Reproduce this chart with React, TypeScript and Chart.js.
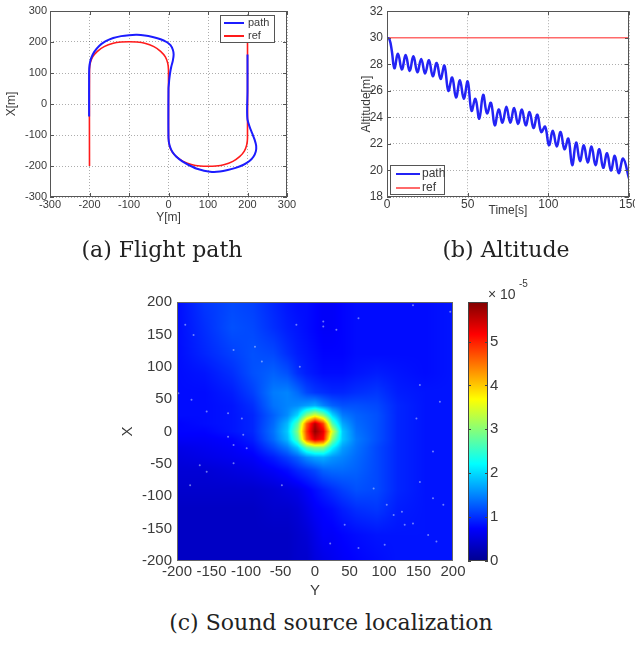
import React, { useEffect, useRef } from 'react';
import { Chart, registerables } from 'chart.js';

Chart.register(...registerables);

// ---------- (a) Flight path : horizontal = Y[m], vertical = X[m] ----------
const pathY = [-201, -201, -200, -196, -188, -175, -160, -140, -120, -100, -80, -60, -40, -20, -5, 5, 11, 13, 11, 7, 4, 2, 1, 0, 0, 3, 10, 20, 35, 50, 70, 90, 110, 130, 150, 170, 190, 205, 215, 221, 222, 218, 212, 205, 200, 199, 200, 200];
const pathX = [-40, 100, 125, 147, 168, 188, 202, 213, 219, 222, 223, 221, 216, 209, 200, 190, 175, 160, 140, 120, 100, 80, 65, 50, -110, -135, -155, -170, -185, -196, -208, -215, -219, -218, -213, -206, -196, -184, -170, -153, -135, -115, -95, -72, -50, -20, 40, 160];
const refY = [-200, -200, -198, -192, -180, -163, -140, -120, -100, -80, -60, -37, -20, -8, -2, 0, 0, 2, 8, 20, 37, 60, 80, 100, 120, 140, 163, 180, 192, 198, 200, 200];
const refX = [-200, 110, 132, 152, 170, 185, 196, 200, 201, 200, 196, 185, 170, 152, 132, 110, -110, -132, -152, -170, -185, -196, -200, -201, -200, -196, -185, -170, -152, -132, -110, 200];
const flightTicks = [-300, -200, -100, 0, 100, 200, 300];

// ---------- (b) Altitude ----------
const altTime = [0, 1.5, 3.0, 4.6, 6.8, 9.2, 11.6, 14.0, 16.4, 18.8, 21.2, 23.6, 26.0, 28.4, 30.8, 33.2, 35.6, 38.0, 40.4, 42.8, 45.2, 47.6, 50.0, 52.4, 54.8, 57.2, 59.6, 62.0, 64.4, 66.8, 69.2, 71.6, 74.0, 76.4, 78.8, 81.2, 83.6, 86.0, 88.4, 90.8, 93.2, 95.6, 98.0, 100.4, 102.8, 105.2, 107.6, 110.0, 112.4, 114.8, 117.2, 119.6, 122.0, 124.4, 126.8, 129.2, 131.6, 134.0, 136.4, 138.8, 141.2, 143.6, 146.4, 150.0];
const altPath = [30.0, 29.9, 29.0, 27.7, 28.8, 27.6, 28.7, 27.5, 28.6, 27.4, 28.4, 27.3, 28.3, 27.1, 28.1, 26.9, 27.9, 26.0, 27.0, 25.5, 26.8, 25.4, 26.7, 24.5, 25.4, 23.9, 25.7, 24.3, 25.1, 23.4, 24.6, 23.6, 24.8, 23.6, 24.7, 23.5, 24.6, 23.4, 24.4, 23.2, 24.2, 22.9, 23.3, 21.9, 23.0, 21.8, 22.9, 21.6, 22.4, 20.4, 22.1, 20.7, 21.9, 20.6, 21.8, 20.4, 21.6, 20.2, 21.3, 20.0, 21.1, 19.8, 20.9, 19.4];
const altRefTime = [0, 150];
const altRefValue = [30, 30];
const timeTicks = [0, 50, 100, 150];
const altTicks = [18, 20, 22, 24, 26, 28, 30, 32];

// ---------- (c) Sound source localization (values x 1e-5) ----------
const heatGridY = [-200, -160, -120, -90, -60, -40, -25, -12, 0, 12, 25, 40, 60, 90, 120, 160, 200];
const heatGridX = [200, 160, 120, 90, 60, 40, 25, 12, 0, -12, -25, -40, -60, -90, -120, -160, -200];
const heatValues = [
  [0.8, 1.05, 1.15, 1.1, 0.95, 0.85, 0.8, 0.8, 0.75, 0.7, 0.7, 0.75, 0.8, 0.8, 0.8, 0.8, 0.85],
  [0.8, 1.0, 1.2, 1.15, 1.0, 0.9, 0.85, 0.8, 0.75, 0.7, 0.7, 0.75, 0.8, 0.8, 0.8, 0.8, 0.85],
  [0.8, 0.95, 1.1, 1.2, 1.15, 1.0, 0.9, 0.85, 0.8, 0.75, 0.75, 0.75, 0.8, 0.8, 0.8, 0.8, 0.85],
  [0.8, 0.85, 1.0, 1.2, 1.3, 1.2, 1.0, 0.9, 0.85, 0.8, 0.8, 0.8, 0.85, 0.9, 0.85, 0.8, 0.85],
  [0.8, 0.8, 0.9, 1.1, 1.45, 1.5, 1.35, 1.15, 1.05, 1.0, 0.95, 0.95, 1.0, 1.05, 0.9, 0.85, 0.85],
  [0.8, 0.8, 0.85, 1.0, 1.4, 1.5, 1.55, 1.65, 1.75, 1.5, 1.3, 1.2, 1.2, 1.15, 0.95, 0.85, 0.85],
  [0.8, 0.8, 0.85, 0.95, 1.3, 1.55, 2.0, 3.0, 3.5, 3.0, 2.0, 1.45, 1.3, 1.2, 0.95, 0.85, 0.85],
  [0.75, 0.8, 0.85, 0.95, 1.35, 1.8, 2.7, 4.6, 5.6, 4.8, 2.7, 1.7, 1.35, 1.2, 0.95, 0.85, 0.85],
  [0.75, 0.75, 0.85, 0.95, 1.4, 1.9, 3.0, 4.8, 5.8, 5.3, 3.5, 1.9, 1.4, 1.2, 0.95, 0.85, 0.85],
  [0.7, 0.7, 0.75, 0.9, 1.35, 1.8, 2.7, 4.6, 5.4, 5.1, 3.0, 1.9, 1.45, 1.2, 0.95, 0.85, 0.85],
  [0.6, 0.65, 0.7, 0.8, 1.15, 1.45, 1.9, 2.7, 3.0, 3.0, 2.2, 1.65, 1.4, 1.15, 0.95, 0.85, 0.85],
  [0.55, 0.6, 0.65, 0.7, 0.9, 1.1, 1.3, 1.55, 1.7, 1.75, 1.6, 1.5, 1.35, 1.15, 0.95, 0.85, 0.85],
  [0.5, 0.5, 0.55, 0.6, 0.7, 0.8, 0.95, 1.05, 1.15, 1.3, 1.35, 1.35, 1.3, 1.15, 0.95, 0.85, 0.85],
  [0.45, 0.45, 0.45, 0.45, 0.5, 0.55, 0.6, 0.7, 0.8, 0.9, 1.0, 1.1, 1.2, 1.15, 0.95, 0.85, 0.85],
  [0.4, 0.4, 0.4, 0.4, 0.45, 0.45, 0.5, 0.6, 0.7, 0.75, 0.8, 0.9, 1.0, 1.05, 0.9, 0.85, 0.85],
  [0.4, 0.4, 0.4, 0.4, 0.4, 0.4, 0.45, 0.5, 0.6, 0.7, 0.7, 0.75, 0.8, 0.85, 0.85, 0.85, 0.85],
  [0.4, 0.4, 0.4, 0.4, 0.4, 0.4, 0.45, 0.45, 0.55, 0.6, 0.65, 0.7, 0.75, 0.8, 0.85, 0.85, 0.85],
];
const heatMax = 5.9;
const speckY = [-27, 12, 12, 31, 63, 142, 196, -188, -176, -118, -87, -77, -198, -179, -157, -126, -106, -104, -126, -118, -99, -167, -157, -118, -48, -181, 104, 114, 126, 130, 142, 171, 186, 152, 85, 43, 22, 63, 101, 164, 176, -22, 152, 181, 171, 147];
const speckX = [165, 170, 162, 157, 175, 195, 185, 165, 149, 126, 131, 108, 59, 49, 31, 28, 20, -5, -8, -21, -26, -52, -62, -49, -83, -83, -113, -129, -124, -144, -142, -103, -113, -78, -88, -144, -173, -180, -175, -160, -170, 100, 72, 46, -31, 20];
const heatTicks = [-200, -150, -100, -50, 0, 50, 100, 150, 200];
const colorbarTicks = [0, 1, 2, 3, 4, 5];

// ---------- helpers ----------
const SANS = '"Liberation Sans", Arial, Helvetica, sans-serif';
const TXT = '#3a3a3a';
const toPoints = (xs: number[], ys: number[]) => xs.map((x, i) => ({ x, y: ys[i] }));
const setTicks = (vals: number[]) => (s: any) => { s.ticks = vals.map((v) => ({ value: v })); };

function jet(t: number): [number, number, number] {
  const c = (v: number) => Math.max(0, Math.min(1, v));
  return [c(1.5 - Math.abs(4 * t - 3)), c(1.5 - Math.abs(4 * t - 2)), c(1.5 - Math.abs(4 * t - 1))].map((v) => Math.round(v * 255)) as any;
}

function bracket(grid: number[], v: number): [number, number] {
  const n = grid.length;
  const asc = grid[n - 1] > grid[0];
  for (let i = 0; i < n - 1; i++) {
    const a = grid[i], b = grid[i + 1];
    if ((asc && v <= b) || (!asc && v >= b)) {
      const f = Math.max(0, Math.min(1, (v - a) / (b - a)));
      return [i, f];
    }
  }
  return [n - 2, 1];
}

const matlabBox = {
  id: 'matlabBox',
  afterDatasetsDraw(chart: any, _a: any, o: any) {
    if (!o || !o.show) return;
    const { ctx, chartArea: a } = chart;
    ctx.save();
    ctx.strokeStyle = o.color;
    ctx.lineWidth = 1;
    ctx.setLineDash([]);
    ctx.strokeRect(Math.round(a.left) + 0.5, Math.round(a.top) + 0.5, Math.round(a.right - a.left) - 1, Math.round(a.bottom - a.top) - 1);
    const L = o.tickLen || 0;
    if (L) {
      ctx.beginPath();
      if (o.xTicks) {
        const sx = chart.scales.x;
        sx.ticks.forEach((t: any) => {
          const p = Math.round(sx.getPixelForValue(t.value)) + 0.5;
          ctx.moveTo(p, a.bottom); ctx.lineTo(p, a.bottom - L);
          ctx.moveTo(p, a.top); ctx.lineTo(p, a.top + L);
        });
      }
      if (o.yTicks) {
        const sy = chart.scales.y;
        sy.ticks.forEach((t: any) => {
          const p = Math.round(sy.getPixelForValue(t.value)) + 0.5;
          ctx.moveTo(a.left, p); ctx.lineTo(a.left + L, p);
          ctx.moveTo(a.right, p); ctx.lineTo(a.right - L, p);
        });
      }
      ctx.stroke();
    }
    ctx.restore();
  },
};

const boxLegend = {
  id: 'boxLegend',
  afterDraw(chart: any, _a: any, o: any) {
    if (!o || !o.show) return;
    const { ctx, chartArea: a } = chart;
    const x0 = Math.round(o.anchor === 'tr' ? a.right - o.dx - o.w : a.left + o.dx);
    const y0 = Math.round(o.anchor === 'tr' ? a.top + o.dy : a.bottom - o.dy - o.h);
    ctx.save();
    ctx.fillStyle = '#ffffff';
    ctx.fillRect(x0, y0, o.w, o.h);
    ctx.strokeStyle = '#555';
    ctx.lineWidth = 1;
    ctx.strokeRect(x0 + 0.5, y0 + 0.5, o.w - 1, o.h - 1);
    ctx.font = o.labelFont;
    ctx.textBaseline = 'middle';
    chart.data.datasets.forEach((ds: any, i: number) => {
      const cy = y0 + o.firstRow + i * o.rowGap;
      ctx.strokeStyle = ds.borderColor;
      ctx.lineWidth = 2;
      ctx.beginPath();
      ctx.moveTo(x0 + o.lineStart, cy);
      ctx.lineTo(x0 + o.lineStart + o.lineLen, cy);
      ctx.stroke();
      ctx.fillStyle = TXT;
      ctx.fillText(ds.label, x0 + o.textStart, cy);
    });
    ctx.restore();
  },
};

const heatmapLayer = {
  id: 'heatmapLayer',
  beforeDatasetsDraw(chart: any, _a: any, o: any) {
    if (!o || !o.show) return;
    const { ctx, chartArea: a } = chart;
    const sx = chart.scales.x, sy = chart.scales.y;
    const w = Math.round(a.right - a.left), h = Math.round(a.bottom - a.top);
    const off = document.createElement('canvas');
    off.width = w; off.height = h;
    const octx = off.getContext('2d') as CanvasRenderingContext2D;
    const img = octx.createImageData(w, h);
    const cols = heatGridY, rows = heatGridX, vals = heatValues;
    for (let py = 0; py < h; py++) {
      const X = sy.getValueForPixel(a.top + py + 0.5);
      const [j, fy] = bracket(rows, X);
      for (let px = 0; px < w; px++) {
        const Y = sx.getValueForPixel(a.left + px + 0.5);
        const [i, fx] = bracket(cols, Y);
        const v = (vals[j][i] * (1 - fx) + vals[j][i + 1] * fx) * (1 - fy) + (vals[j + 1][i] * (1 - fx) + vals[j + 1][i + 1] * fx) * fy;
        const [r, g, b] = jet(v / heatMax);
        const k = (py * w + px) * 4;
        img.data[k] = r; img.data[k + 1] = g; img.data[k + 2] = b; img.data[k + 3] = 255;
      }
    }
    octx.putImageData(img, 0, 0);
    ctx.drawImage(off, Math.round(a.left), Math.round(a.top));
  },
};

function axis(opts: any) {
  const { min, max, ticks, fontSize, pos, size, tickPad, title, titlePad, grid } = opts;
  return {
    type: 'linear',
    position: pos,
    min, max,
    afterBuildTicks: setTicks(ticks),
    afterFit: (s: any) => { if (pos === 'left' || pos === 'right') s.width = size; else s.height = size; },
    grid: grid
      ? { display: true, drawTicks: false, color: 'rgba(0,0,0,0.32)', lineWidth: 1 }
      : { display: false, drawTicks: false },
    border: { display: false, dash: [1, 2] },
    ticks: { padding: tickPad, color: TXT, font: { family: SANS, size: fontSize }, autoSkip: false, maxRotation: 0 },
    title: title
      ? { display: true, text: title, color: TXT, font: { family: SANS, size: opts.titleSize || fontSize }, padding: titlePad }
      : { display: false },
  };
}

function useChart(ref: React.RefObject<HTMLCanvasElement>, makeConfig: () => any) {
  useEffect(() => {
    if (!ref.current) return;
    const chart = new Chart(ref.current, makeConfig());
    return () => chart.destroy();
  }, []);
}

export default function App() {
  const aRef = useRef<HTMLCanvasElement>(null);
  const bRef = useRef<HTMLCanvasElement>(null);
  const cRef = useRef<HTMLCanvasElement>(null);
  const cbRef = useRef<HTMLCanvasElement>(null);

  useChart(aRef, () => ({
    type: 'scatter',
    data: {
      datasets: [
        { label: 'path', data: toPoints(pathY, pathX), showLine: true, borderColor: '#1c1cff', borderWidth: 2, pointRadius: 0, tension: 0.3 },
        { label: 'ref', data: toPoints(refY, refX), showLine: true, borderColor: '#ff1a1a', borderWidth: 1.6, pointRadius: 0, tension: 0.3 },
      ],
    },
    options: {
      animation: false, responsive: false, events: [],
      layout: { padding: { top: 11, right: 13, left: 0, bottom: 0 } },
      plugins: {
        legend: { display: false }, tooltip: { enabled: false },
        matlabBox: { show: true, color: '#555', tickLen: 4, xTicks: true, yTicks: true },
        boxLegend: { show: true, anchor: 'tr', dx: 12, dy: 4, w: 55, h: 28, firstRow: 8, rowGap: 13, lineStart: 4, lineLen: 20, textStart: 28, labelFont: `11px ${SANS}` },
      },
      scales: {
        x: axis({ min: -300, max: 300, ticks: flightTicks, fontSize: 11, pos: 'bottom', size: 43, tickPad: 1, title: 'Y[m]', titleSize: 12, titlePad: { top: 0, bottom: 15 }, grid: true }),
        y: axis({ min: -300, max: 300, ticks: flightTicks, fontSize: 11, pos: 'left', size: 50, tickPad: 3, title: 'X[m]', titleSize: 12, titlePad: { top: 4, bottom: 0 }, grid: true }),
      },
    },
    plugins: [matlabBox, boxLegend],
  }));

  useChart(bRef, () => ({
    type: 'scatter',
    data: {
      datasets: [
        { label: 'path', data: toPoints(altTime, altPath), showLine: true, borderColor: '#2323f5', borderWidth: 2.5, pointRadius: 0, tension: 0.4 },
        { label: 'ref', data: toPoints(altRefTime, altRefValue), showLine: true, borderColor: '#ff6a6a', borderWidth: 1.6, pointRadius: 0 },
      ],
    },
    options: {
      animation: false, responsive: false, events: [],
      layout: { padding: { top: 11, right: 21, left: 0, bottom: 0 } },
      plugins: {
        legend: { display: false }, tooltip: { enabled: false },
        matlabBox: { show: true, color: '#555', tickLen: 4, xTicks: true, yTicks: true },
        boxLegend: { show: true, anchor: 'bl', dx: 3, dy: 2, w: 55, h: 30, firstRow: 9, rowGap: 14, lineStart: 6, lineLen: 24, textStart: 32, labelFont: `12px ${SANS}` },
      },
      scales: {
        x: axis({ min: 0, max: 150, ticks: timeTicks, fontSize: 12, pos: 'bottom', size: 43, tickPad: 0, title: 'Time[s]', titlePad: { top: 0, bottom: 22 }, grid: true }),
        y: axis({ min: 18, max: 32, ticks: altTicks, fontSize: 12, pos: 'left', size: 57, tickPad: 4, title: 'Altitude[m]', titlePad: { top: 29, bottom: 0 }, grid: true }),
      },
    },
    plugins: [matlabBox, boxLegend],
  }));

  useChart(cRef, () => ({
    type: 'scatter',
    data: {
      datasets: [
        { label: 'speckle', data: toPoints(speckY, speckX), pointRadius: 1, pointBorderWidth: 0, backgroundColor: 'rgba(200,215,255,0.55)', borderColor: 'rgba(0,0,0,0)' },
      ],
    },
    options: {
      animation: false, responsive: false, events: [],
      layout: { padding: { top: 17, right: 17, left: 0, bottom: 0 } },
      plugins: {
        legend: { display: false }, tooltip: { enabled: false },
        heatmapLayer: { show: true },
        matlabBox: { show: true, color: '#666', tickLen: 0 },
      },
      scales: {
        x: axis({ min: -200, max: 200, ticks: heatTicks, fontSize: 15, pos: 'bottom', size: 44, tickPad: 2, title: 'Y', titlePad: { top: 0, bottom: 5 }, grid: false }),
        y: axis({ min: -200, max: 200, ticks: heatTicks, fontSize: 15, pos: 'left', size: 67, tickPad: 5, title: 'X', titlePad: { top: 9, bottom: 0 }, grid: false }),
      },
    },
    plugins: [heatmapLayer, matlabBox],
  }));

  useChart(cbRef, () => ({
    type: 'bar',
    data: {
      labels: [''],
      datasets: [{
        data: [heatMax],
        borderWidth: 0,
        barPercentage: 1,
        categoryPercentage: 1,
        backgroundColor: (c: any) => {
          const a = c.chart.chartArea;
          if (!a) return '#0000ff';
          const g = c.chart.ctx.createLinearGradient(0, a.bottom, 0, a.top);
          g.addColorStop(0, '#00008f');
          g.addColorStop(0.125, '#0000ff');
          g.addColorStop(0.375, '#00ffff');
          g.addColorStop(0.625, '#ffff00');
          g.addColorStop(0.875, '#ff0000');
          g.addColorStop(1, '#800000');
          return g;
        },
      }],
    },
    options: {
      animation: false, responsive: false, events: [],
      layout: { padding: { top: 17, right: 0, left: 8, bottom: 44 } },
      plugins: {
        legend: { display: false }, tooltip: { enabled: false },
        matlabBox: { show: true, color: '#444', tickLen: 3, xTicks: false, yTicks: true },
      },
      scales: {
        x: { display: false },
        y: axis({ min: 0, max: heatMax, ticks: colorbarTicks, fontSize: 15, pos: 'right', size: 32, tickPad: 2, grid: false }),
      },
    },
    plugins: [matlabBox],
  }));

  const cap: React.CSSProperties = {
    position: 'absolute', width: 400, textAlign: 'center', fontFamily: '"DejaVu Serif", serif',
    fontSize: 22, lineHeight: '22px', color: '#222', whiteSpace: 'nowrap',
  };

  return (
    <div style={{ position: 'fixed', left: 0, top: 0, width: 635, height: 649, overflow: 'hidden', background: '#fff' }}>
      <canvas ref={aRef} width={300} height={240} style={{ position: 'absolute', left: 0, top: 0 }} />
      <canvas ref={bRef} width={320} height={240} style={{ position: 'absolute', left: 330, top: 0 }} />
      <canvas ref={cRef} width={360} height={320} style={{ position: 'absolute', left: 110, top: 285 }} />
      <canvas ref={cbRef} width={60} height={320} style={{ position: 'absolute', left: 460, top: 285 }} />
      <div style={{ position: 'absolute', left: 488, top: 287, fontFamily: SANS, fontSize: 14, lineHeight: '14px', color: TXT }}>× 10</div>
      <div style={{ position: 'absolute', left: 519, top: 279, fontFamily: SANS, fontSize: 10, lineHeight: '10px', color: TXT }}>-5</div>
      <div style={{ ...cap, left: 162 - 200, top: 239 }}>(a) Flight path</div>
      <div style={{ ...cap, left: 506 - 200, top: 239 }}>(b) Altitude</div>
      <div style={{ ...cap, left: 331 - 200, top: 612 }}>(c) Sound source localization</div>
    </div>
  );
}
